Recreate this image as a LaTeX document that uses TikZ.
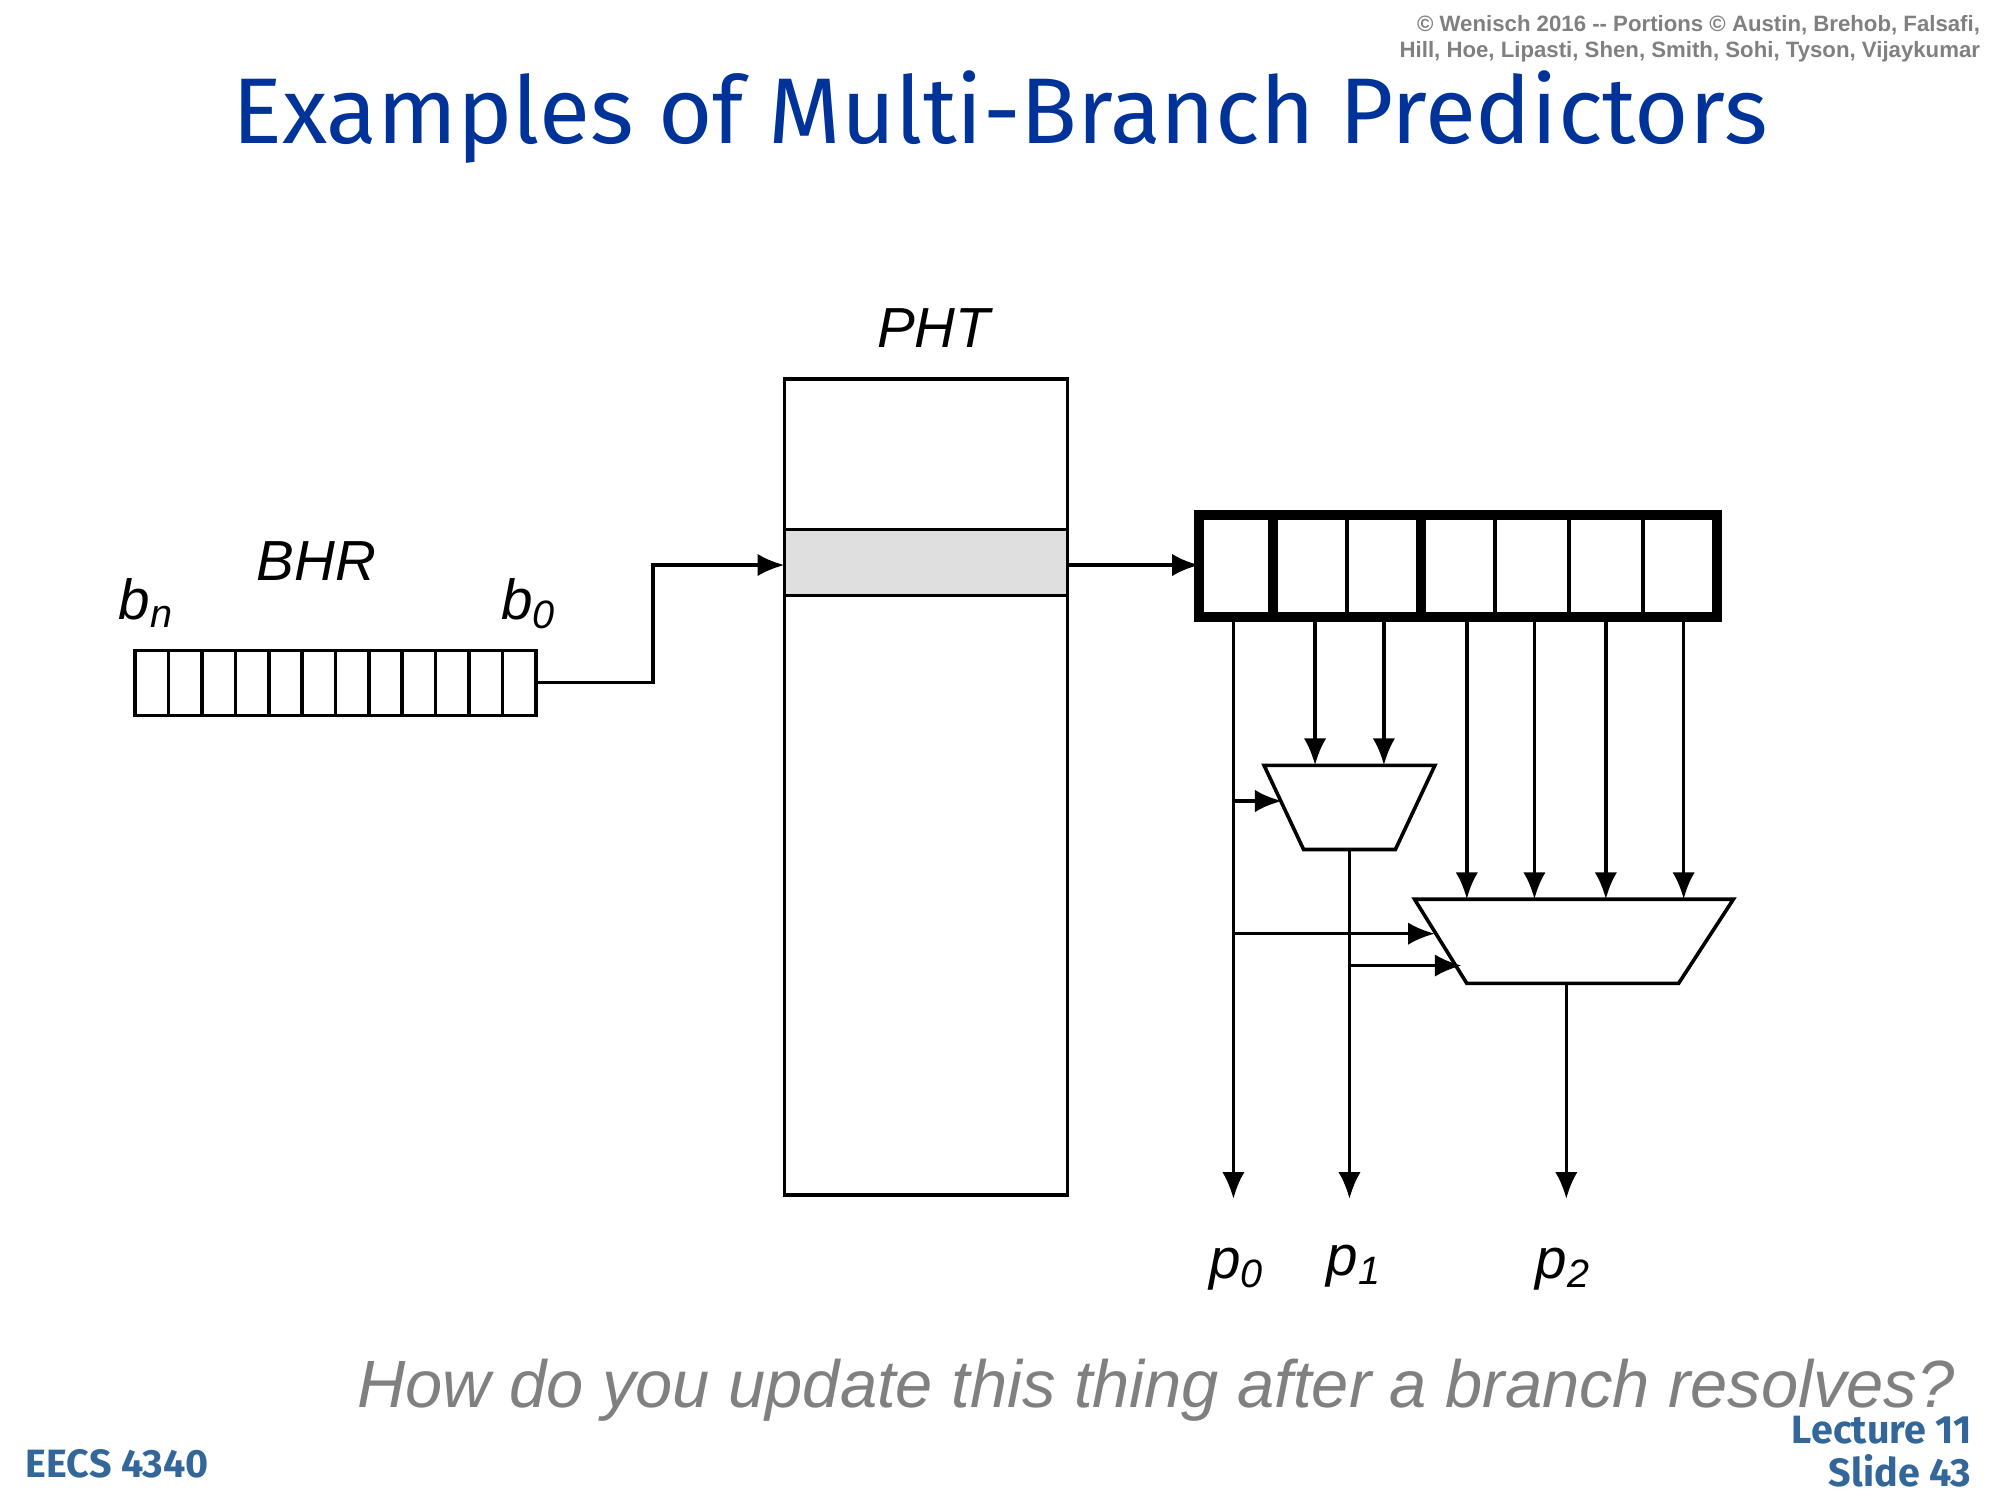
\documentclass[tikz,border=0pt]{standalone}
\usepackage{fontspec}
\setmainfont{Liberation Sans}
\newfontfamily\titlefont{Fira Sans}
\usetikzlibrary{arrows.meta,positioning}
\definecolor{slideblue}{RGB}{0,51,153}
\definecolor{footblue}{RGB}{51,102,153}
\newcommand{\sub}[2]{\textit{#1}\textsubscript{\textit{#2}}}
\begin{document}
\begin{tikzpicture}[x=0.01cm,y=-0.01cm,
  wire/.style={line width=0.8pt},
  arr/.style={wire,-{Latex[length=6pt,width=5pt]}},
  lbl/.style={font=\fontsize{12.6}{15}\selectfont\itshape},
  mux/.style={wire,fill=white}]
\useasboundingbox (0,0) rectangle (1568,1176);
% header and footer
\node[anchor=north east,align=right,text=gray,font=\fontsize{4.95}{6}\selectfont\bfseries,inner sep=0pt] (copy) at (1553,11) {© Wenisch 2016 {-}{-} Portions © Austin, Brehob, Falsafi,\\Hill, Hoe, Lipasti, Shen, Smith, Sohi, Tyson, Vijaykumar};
\node[text=slideblue,font=\titlefont\fontsize{20.8}{24}\selectfont] (title) at (784,92) {Examples of Multi-Branch Predictors};
\node[text=gray,font=\fontsize{14.9}{18}\selectfont\itshape,anchor=east] (quest) at (1545,1090) {How do you update this thing after a branch resolves?};
\node[text=footblue,font=\titlefont\fontsize{8.8}{10}\selectfont\bfseries] (course) at (92,1148) {EECS 4340};
\node[text=footblue,font=\titlefont\fontsize{8.8}{9.5}\selectfont\bfseries,align=right,anchor=east] (slide) at (1558,1138) {Lecture 11\\Slide 43};
% BHR
\draw[wire] (106,510) rectangle (420,561);
\foreach \i in {1,...,11} \draw[wire] (106+\i*26.17,510) -- (106+\i*26.17,561);
\node[lbl] (bhr) at (248,440) {BHR};
\node[lbl] (bn) at (115,473) {\sub{b}{n}};
\node[lbl] (bz) at (415,473) {\sub{b}{0}};
% PHT
\draw[wire] (615,297) rectangle (837,937);
\draw[wire,fill=gray!25] (615,415) rectangle (837,467);
\node[lbl] (pht) at (732,257) {PHT};
\coordinate (bhrout) at (420,535);
\coordinate (phtin) at (615,443);
\coordinate (phtout) at (837,443);
\coordinate (ctrin) at (940,443);
\draw[arr] (bhrout) -- (512,535) |- (phtin);
\draw[arr] (phtout) -- (ctrin);
% counters
\foreach \i in {1,...,6} \draw[wire] (940+\i*58,404) -- (940+\i*58,484);
\draw[line width=2.2pt] (940,404) rectangle (1346,484);
\draw[line width=2.2pt] (998,404) -- (998,484) (1114,404) -- (1114,484);
% muxes
\draw[mux] (991,600) -- (1125,600) -- (1094,666) -- (1022,666) -- cycle;
\draw[mux] (1109,705) -- (1359,705) -- (1316,771) -- (1150,771) -- cycle;
\foreach \x in {1031,1085} \draw[arr] (\x,484) -- (\x,600);
\foreach \x in {1150,1203,1259,1320} \draw[arr] (\x,484) -- (\x,705);
% outputs
\node[lbl] (p0) at (970,995) {\sub{p}{0}};
\node[lbl] (p1) at (1062,993) {\sub{p}{1}};
\node[lbl] (p2) at (1226,995) {\sub{p}{2}};
\draw[arr] (967,484) -- (967,940);
\draw[arr] (967,628) -- (1005,628);
\draw[arr] (967,732) -- (1125,732);
\draw[arr] (1058,666) -- (1058,940);
\draw[arr] (1058,757) -- (1146,757);
\draw[arr] (1228,771) -- (1228,940);
\end{tikzpicture}
\end{document}
